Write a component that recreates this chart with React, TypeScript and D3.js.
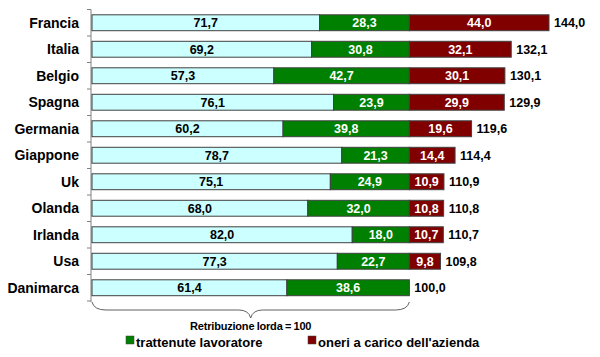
import React from "react";
import * as d3 from "d3";

const categories = ["Francia", "Italia", "Belgio", "Spagna", "Germania", "Giappone", "Uk", "Olanda", "Irlanda", "Usa", "Danimarca"];
const netto = [71.7, 69.2, 57.3, 76.1, 60.2, 78.7, 75.1, 68.0, 82.0, 77.3, 61.4];
const trattenute = [28.3, 30.8, 42.7, 23.9, 39.8, 21.3, 24.9, 32.0, 18.0, 22.7, 38.6];
const oneri = [44.0, 32.1, 30.1, 29.9, 19.6, 14.4, 10.9, 10.8, 10.7, 9.8, 0];
const totali = [144.0, 132.1, 130.1, 129.9, 119.6, 114.4, 110.9, 110.8, 110.7, 109.8, 100.0];
const seriesNames = ["trattenute lavoratore", "oneri a carico dell'azienda"];
const braceLabel = "Retribuzione lorda = 100";

const fmt = (v: number) => v.toFixed(1).replace(".", ",");

export default function App() {
  const W = 600, H = 357;
  const x = d3.scaleLinear().domain([0, 144]).range([92, 549]);
  const y = d3.scaleBand<string>().domain(categories).range([9.5, 301]).paddingInner(0.4).paddingOuter(0.2);
  const colors = ["#CCFFFF", "#008000", "#800000"];
  const textColors = ["#000", "#fff", "#fff"];
  const font = "Arial, 'Liberation Sans', sans-serif";
  const bw = y.bandwidth();
  const step = y.step();
  const axisTop = 9.5;
  const axisBottom = 302;
  const ticks = d3.range(categories.length + 1).map((i) => axisTop + i * step);

  const x0 = x(0), x100 = x(100);
  const mid = (x0 + x100) / 2;
  const by = 302, bm = 310, bp = 318;
  const brace = `M${x0},${by} Q${x0 + 2},${bm} ${x0 + 14},${bm} L${mid - 12},${bm} Q${mid - 2},${bm} ${mid},${bp} Q${mid + 2},${bm} ${mid + 12},${bm} L${x100 - 14},${bm} Q${x100 - 2},${bm} ${x100},${by}`;

  return (
    <svg width={W} height={H} style={{ display: "block", position: "absolute", left: 0, top: 0 }} fontFamily={font}>
      <rect width={W} height={H} fill="#fff" />
      <line x1={91} x2={91} y1={axisTop} y2={axisBottom} stroke="#808080" strokeWidth={1} />
      {ticks.map((t, i) => (
        <line key={i} x1={87} x2={91} y1={t} y2={t} stroke="#808080" strokeWidth={1} />
      ))}
      {categories.map((c, i) => {
        const vals = [netto[i], trattenute[i], oneri[i]];
        let acc = 0;
        const yy = y(c)!;
        const cy = yy + bw / 2;
        return (
          <g key={c}>
            <text x={79} y={cy + 5} textAnchor="end" fontSize={14} fontWeight="bold" fill="#000">{c}</text>
            {vals.map((v, j) => {
              const s = acc;
              acc += v;
              if (v <= 0) return null;
              const xa = x(s), xb = x(s + v);
              return (
                <g key={j}>
                  <rect x={xa} y={yy} width={xb - xa} height={bw} fill={colors[j]} stroke="#404040" strokeWidth={1} />
                  <text x={(xa + xb) / 2} y={cy + 4.5} textAnchor="middle" fontSize={12.5} fontWeight="bold" fill={textColors[j]}>{fmt(v)}</text>
                </g>
              );
            })}
            <text x={x(totali[i]) + 5} y={cy + 4.5} fontSize={12.5} fontWeight="bold" fill="#000">{fmt(totali[i])}</text>
          </g>
        );
      })}
      <path d={brace} fill="none" stroke="#606060" strokeWidth={1} />
      <text x={mid} y={330} textAnchor="middle" fontSize={11} fontWeight="bold" letterSpacing={-0.2} wordSpacing={-0.5} fill="#000">{braceLabel}</text>
      <rect x={126} y={336} width={8} height={8} fill={colors[1]} stroke="#404040" strokeWidth={0.5} />
      <text x={136} y={347} fontSize={13} fontWeight="bold" fill="#000">{seriesNames[0]}</text>
      <rect x={308} y={336} width={8} height={8} fill={colors[2]} stroke="#404040" strokeWidth={0.5} />
      <text x={318} y={347} fontSize={13} fontWeight="bold" fill="#000">{seriesNames[1]}</text>
    </svg>
  );
}
